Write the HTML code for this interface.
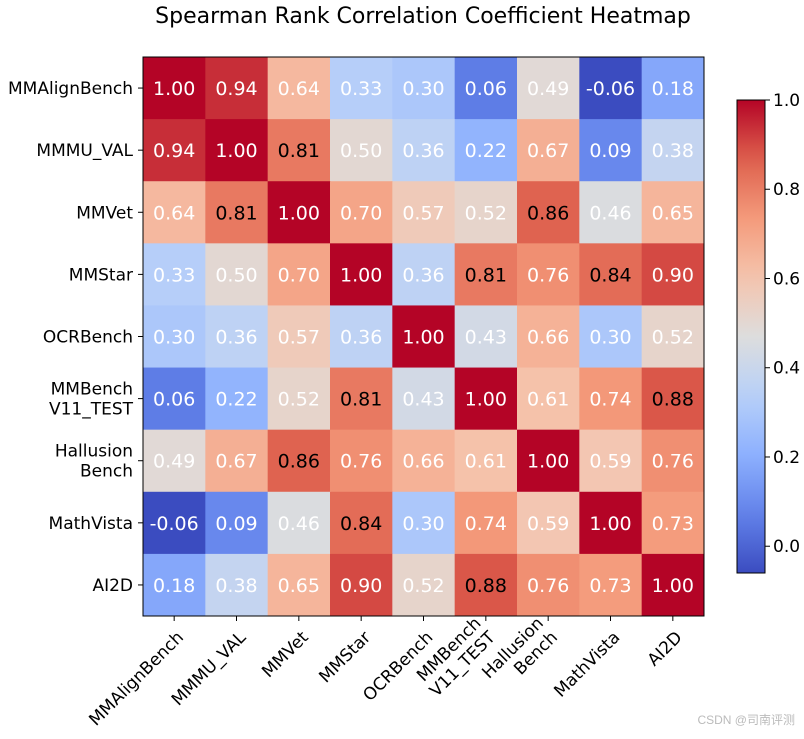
<!DOCTYPE html>
<html><head><meta charset="utf-8"><style>
body{margin:0;background:#fff;width:804px;height:734px;overflow:hidden}
svg{font-family:"DejaVu Sans","Liberation Sans",sans-serif}
</style></head><body>
<svg id="chart" width="804" height="734" xmlns="http://www.w3.org/2000/svg">
<text x="423" y="23" font-size="22" text-anchor="middle">Spearman Rank Correlation Coefficient Heatmap</text>
<g id="cells"></g><g id="ylab"></g><g id="xlab"></g><g id="cbar"></g>
<text x="795" y="724" font-size="12" fill="#bbb" text-anchor="end" font-family="Liberation Sans, Noto Sans CJK SC, sans-serif">CSDN @司南评测</text>
</svg>
<script>
const labels=["MMAlignBench","MMMU_VAL","MMVet","MMStar","OCRBench","MMBench\nV11_TEST","Hallusion\nBench","MathVista","AI2D"];
const row0=[1.00,0.94,0.64,0.33,0.30,0.06,0.49,-0.06,0.18];
const row1=[0.94,1.00,0.81,0.50,0.36,0.22,0.67,0.09,0.38];
const row2=[0.64,0.81,1.00,0.70,0.57,0.52,0.86,0.46,0.65];
const row3=[0.33,0.50,0.70,1.00,0.36,0.81,0.76,0.84,0.90];
const row4=[0.30,0.36,0.57,0.36,1.00,0.43,0.66,0.30,0.52];
const row5=[0.06,0.22,0.52,0.81,0.43,1.00,0.61,0.74,0.88];
const row6=[0.49,0.67,0.86,0.76,0.66,0.61,1.00,0.59,0.76];
const row7=[-0.06,0.09,0.46,0.84,0.30,0.74,0.59,1.00,0.73];
const row8=[0.18,0.38,0.65,0.90,0.52,0.88,0.76,0.73,1.00];
const matrix=[row0,row1,row2,row3,row4,row5,row6,row7,row8];
const cbTicks=[0.0,0.2,0.4,0.6,0.8,1.0];
const vmin=-0.06,vmax=1.0;
const NS="http://www.w3.org/2000/svg";
const L=143,T=57,W=561,H=559,n=labels.length,cw=W/n,ch=H/n;
const stops=[[59,76,192],[98,130,234],[141,176,254],[184,208,249],[221,221,221],[245,196,173],[244,154,123],[222,96,77],[180,4,38]];
function cmap(v){let t=Math.max(0,Math.min(1,(v-vmin)/(vmax-vmin)))*8;let i=Math.min(7,Math.floor(t)),f=t-i;
const a=stops[i],b=stops[i+1];return `rgb(${a.map((c,k)=>Math.round(c+(b[k]-c)*f)).join(",")})`;}
function el(tag,attrs,parent){const e=document.createElementNS(NS,tag);for(const k in attrs)e.setAttribute(k,attrs[k]);parent.appendChild(e);return e;}
const cells=document.getElementById('cells');
matrix.forEach((row,r)=>row.forEach((v,c)=>{
 const rect=el('rect',{x:L+c*cw,y:T+r*ch,width:cw+0.5,height:ch+0.5,fill:cmap(v)},cells);
 
 
 const tx=el('text',{x:L+(c+0.5)*cw,y:T+(r+0.5)*ch+7,'font-size':19,'text-anchor':'middle',fill:(v>=0.8&&v<0.89)?'#000':'#fff'},cells);
 tx.textContent=v.toFixed(2);
 
 
}));
el('rect',{x:L,y:T,width:W,height:H,fill:'none',stroke:'#000','stroke-width':1},cells);
const yl=document.getElementById('ylab'),xl=document.getElementById('xlab');
labels.forEach((lab,i)=>{
 const lines=lab.split("\n");const cy=T+(i+0.5)*ch;
 el('line',{x1:L-5,x2:L,y1:cy,y2:cy,stroke:'#000'},yl);
 lines.forEach((ln,j)=>{const t=el('text',{x:L-10,y:cy+6+(j-(lines.length-1)/2)*20,'font-size':17,'text-anchor':'end'},yl);t.textContent=ln;
  
  });
 const cx=L+(i+0.5)*cw;
 el('line',{x1:cx,x2:cx,y1:T+H,y2:T+H+5,stroke:'#000'},xl);
 const g=el('g',{transform:`translate(${cx+6},${T+H+18}) rotate(-45)`},xl);
 lines.forEach((ln,j)=>{const t=el('text',{x:0,y:(j-(lines.length-1))*20+6,'font-size':17,'text-anchor':'end'},g);t.textContent=ln;
  
  });
});
const cb=document.getElementById('cbar');const cbx=737,cbw=28,cbt=100,cbb=573;
const defs=el('defs',{},cb);const gr=el('linearGradient',{id:'cg',x1:0,y1:1,x2:0,y2:0},defs);
for(let k=0;k<=20;k++){el('stop',{offset:k/20,'stop-color':cmap(vmin+(vmax-vmin)*k/20)},gr);}
const cbr=el('rect',{x:cbx,y:cbt,width:cbw,height:cbb-cbt,fill:'url(#cg)',stroke:'#000','stroke-width':1},cb);


cbTicks.forEach(v=>{const y=cbb-(v-vmin)/(vmax-vmin)*(cbb-cbt);
 el('line',{x1:cbx+cbw,x2:cbx+cbw+5,y1:y,y2:y,stroke:'#000'},cb);
 const t=el('text',{x:cbx+cbw+8,y:y+6,'font-size':17},cb);t.textContent=v.toFixed(1);
 
 });
</script>
</body></html>
